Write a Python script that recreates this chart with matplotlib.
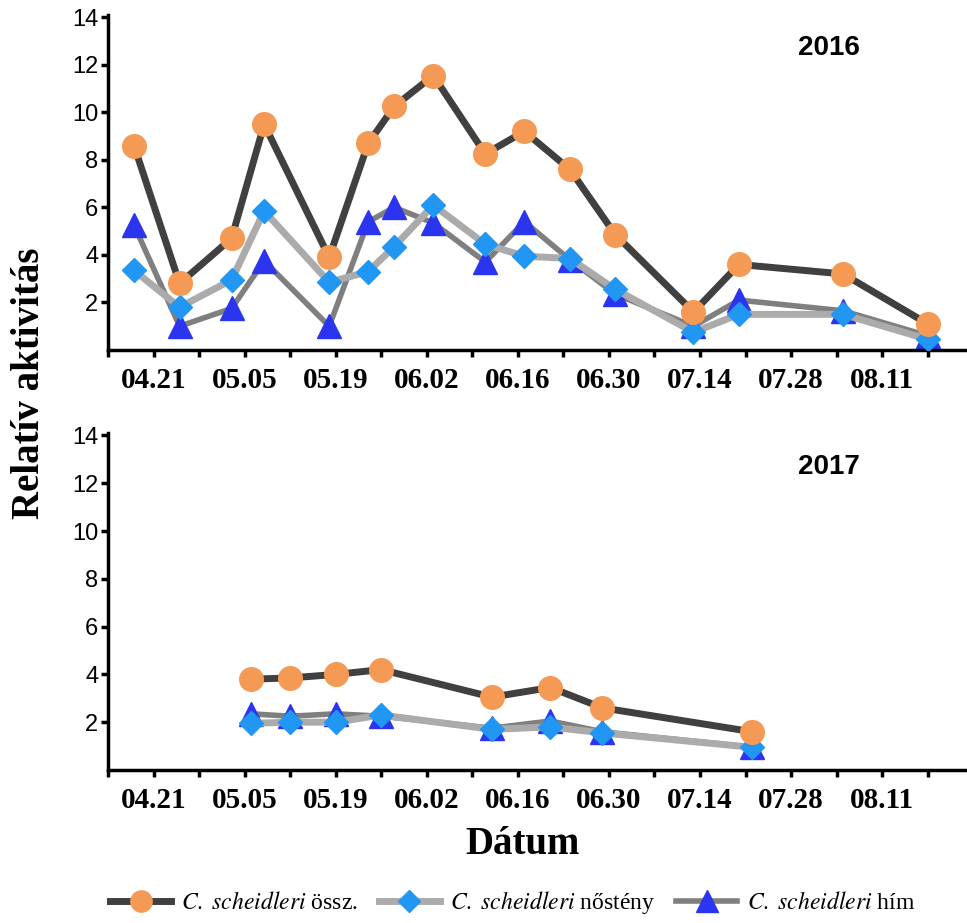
import pandas as pd
import matplotlib
matplotlib.use('Agg')
import matplotlib.pyplot as plt
from matplotlib.ticker import FixedLocator, NullFormatter

plt.rcParams['mathtext.fontset'] = 'stix'

# sampling dates (month.day) and relative activity values
dates_2016 = ['04.18', '04.25', '05.03', '05.08', '05.18', '05.24', '05.28', '06.03',
              '06.11', '06.17', '06.24', '07.01', '07.13', '07.20', '08.05', '08.18']
ossz_2016 = [8.6, 2.8, 4.7, 9.5, 3.9, 8.7, 10.25, 11.55, 8.25, 9.2, 7.6, 4.85, 1.6, 3.6, 3.2, 1.1]
noste_2016 = [3.35, 1.8, 2.95, 5.85, 2.85, 3.3, 4.35, 6.1, 4.45, 3.95, 3.85, 2.55, 0.75, 1.5, 1.5, 0.45]
him_2016 = [5.25, 1.0, 1.75, 3.75, 1.0, 5.4, 6.0, 5.35, 3.7, 5.4, 3.8, 2.35, 1.0, 2.1, 1.65, 0.6]

dates_2017 = ['05.06', '05.12', '05.19', '05.26', '06.12', '06.21', '06.29', '07.22']
ossz_2017 = [3.8, 3.85, 4.0, 4.2, 3.05, 3.45, 2.6, 1.6]
noste_2017 = [1.95, 2.0, 2.0, 2.3, 1.7, 1.8, 1.55, 0.95]
him_2017 = [2.35, 2.25, 2.35, 2.25, 1.75, 2.05, 1.6, 0.95]

tick_labels = ['04.21', '05.05', '05.19', '06.02', '06.16', '06.30', '07.14', '07.28', '08.11']
y_ticks = [2, 4, 6, 8, 10, 12, 14]

base = pd.Timestamp('2016-04-21')


def to_days(md):
    # days from 04.21, month.day only, so both years share one axis
    return [(pd.Timestamp('2016-' + s.replace('.', '-')) - base).days for s in md]


fig = plt.figure(figsize=(9.67, 9.23), dpi=100)
ax1 = fig.add_axes([0.1117, 0.6208, 0.888, 0.363])
ax2 = fig.add_axes([0.1117, 0.1658, 0.888, 0.365])

major = to_days(tick_labels)
minor = [d + 7 for d in major] + [-7]

panels = [(ax1, dates_2016, ossz_2016, noste_2016, him_2016, '2016'),
          (ax2, dates_2017, ossz_2017, noste_2017, him_2017, '2017')]

handles = None
for ax, dts, ossz, nost, him, year in panels:
    x = to_days(dts)
    h3, = ax.plot(x, him, color='#7f7f7f', lw=4, marker='^', ms=17,
                  mfc='#2b35f0', mec='#2b35f0', zorder=2)
    h2, = ax.plot(x, nost, color='#ababab', lw=5, marker='D', ms=12.5,
                  mfc='#2196f3', mec='#2196f3', zorder=3)
    h1, = ax.plot(x, ossz, color='#404040', lw=5, marker='o', ms=17,
                  mfc='#f59a55', mec='#f59a55', zorder=4)
    handles = [h1, h2, h3]

    ax.set_xlim(-7, 125)
    ax.set_ylim(0, 14.1)
    ax.spines['top'].set_visible(False)
    ax.spines['right'].set_visible(False)
    ax.spines['left'].set_linewidth(2.5)
    ax.spines['bottom'].set_linewidth(2.5)

    ax.xaxis.set_major_locator(FixedLocator(major))
    ax.xaxis.set_minor_locator(FixedLocator(minor))
    ax.xaxis.set_minor_formatter(NullFormatter())
    ax.set_xticklabels(tick_labels, family='Liberation Serif', weight='bold', fontsize=21)
    ax.tick_params(axis='x', which='both', length=5, width=2.5, direction='out', pad=7)

    ax.set_yticks(y_ticks)
    ax.set_yticklabels([str(v) for v in y_ticks], family='Liberation Sans', fontsize=17)
    ax.tick_params(axis='y', length=5, width=2.5, direction='out', pad=2)

    ax.text(0.84, 0.9, year, transform=ax.transAxes, family='Liberation Sans',
            weight='bold', fontsize=20, ha='center', va='center')

fig.text(0.03, 0.585, 'Relatív aktivitás', rotation=90, family='Liberation Serif',
         weight='bold', fontsize=28, ha='center', va='center')
fig.text(0.54, 0.085, 'Dátum', family='Liberation Serif', weight='bold',
         fontsize=28, ha='center', va='center')

labels = [r'$\it{C.\ scheidleri}$ össz.', r'$\it{C.\ scheidleri}$ nőstény',
          r'$\it{C.\ scheidleri}$ hím']
fig.legend(handles, labels, loc='center', bbox_to_anchor=(0.53, 0.022), ncol=3,
           frameon=False, prop={'family': 'Liberation Serif', 'size': 17},
           handlelength=2.6, columnspacing=0.9, handletextpad=0.4, markerscale=0.9)

fig.savefig('out.png', dpi=100)
